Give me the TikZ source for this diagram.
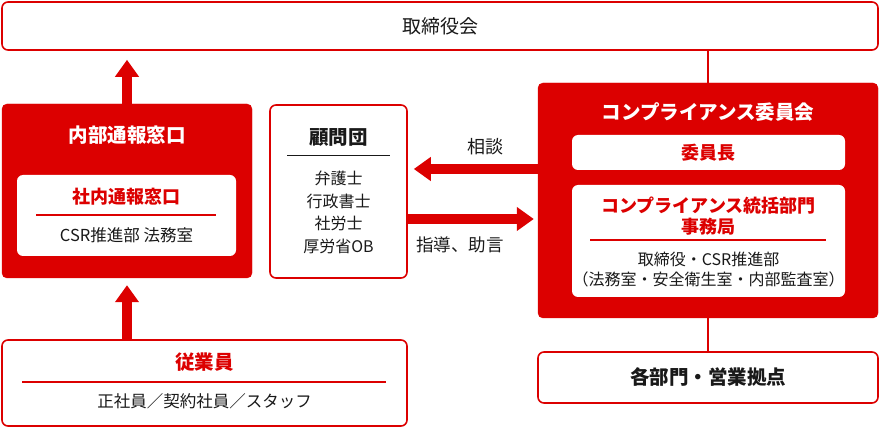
\documentclass[tikz,border=0pt]{standalone}
\usepackage{fontspec}
\setmainfont{Noto Sans CJK JP}
\usetikzlibrary{arrows.meta}
\definecolor{orgred}{RGB}{220,0,0}
\definecolor{orgink}{RGB}{25,25,25}
\tikzset{
  orgbox/.style={draw=orgred, line width=1.6pt, fill=white,
                 rounded corners=6pt, inner sep=0pt},
  orgpanel/.style={draw=orgred, fill=orgred, rounded corners=5pt,
                   inner sep=0pt},
  orginner/.style={fill=white, rounded corners=6pt, inner sep=0pt},
  orgtitle/.style={font=\fontsize{19.5}{22}\selectfont\bfseries, inner sep=0pt},
  orgsub/.style={font=\fontsize{18}{21}\selectfont\bfseries, text=orgred,
                 align=center, inner sep=0pt},
  orgtext/.style={font=\fontsize{16.5}{21}\selectfont, text=orgink,
                  align=center, inner sep=0pt},
  orgrule/.style={draw=orgred, line width=1.2pt},
  orglink/.style={draw=orgred, line width=1.8pt},
  bigarrow/.style={draw=orgred, line width=9.5pt,
                   -{Triangle[width=23pt,length=17pt]}}
}
\begin{document}
\begin{tikzpicture}[x=1pt, y=-1pt]
  \useasboundingbox (0,0) rectangle (880,427);

  % board
  \node[orgbox, minimum width=876pt, minimum height=48pt] (board) at (440,26) {};
  \node[orgtext, font=\fontsize{19}{22}\selectfont] (boardtxt) at (440,26) {取締役会};

  % internal reporting desk
  \node[orgpanel, minimum width=250pt, minimum height=174pt] (desk) at (127,191) {};
  \node[orgtitle, text=white] (desktxt) at (127,135) {内部通報窓口};
  \node[orginner, minimum width=219pt, minimum height=81pt] (deskin) at (126.5,215.5) {};
  \node[orgsub] (deskintxt) at (126.5,197) {社内通報窓口};
  \draw[orgrule] (36,215) -- (216,215);
  \node[orgtext] (deskinsub) at (126.5,235) {CSR推進部 法務室};

  % advisors
  \node[orgbox, minimum width=137pt, minimum height=173pt] (advisors) at (338.5,191.5) {};
  \node[orgtitle, text=orgink] (advtxt) at (338.5,137) {顧問団};
  \draw[orgink, line width=1pt] (287,156) -- (390,156);
  \node[orgtext, font=\fontsize{16}{22.5}\selectfont] (advlist) at (338.5,212.5)
    {弁護士\\行政書士\\社労士\\厚労省OB};

  % compliance committee
  \node[orgpanel, minimum width=340pt, minimum height=235pt] (committee) at (708,200.5) {};
  \node[orgtitle, text=white] (comtxt) at (708,112) {コンプライアンス委員会};
  \node[orginner, minimum width=273pt, minimum height=35pt] (chair) at (708.5,152.5) {};
  \node[orgsub] (chairtxt) at (708.5,153) {委員長};
  \node[orginner, minimum width=273pt, minimum height=112pt] (office) at (708.5,241) {};
  \node[orgsub] (officetxt) at (708.5,216.5) {コンプライアンス統括部門\\事務局};
  \draw[orgrule] (590,240) -- (826,240);
  \node[orgtext, font=\fontsize{16}{20}\selectfont] (officesub) at (708.5,270)
    {取締役・CSR推進部\\（法務室・安全衛生室・内部監査室）};

  % departments
  \node[orgbox, minimum width=340pt, minimum height=51pt] (depts) at (708,377.5) {};
  \node[orgtitle, text=orgink] (deptstxt) at (708,377.5) {各部門・営業拠点};

  % employees
  \node[orgbox, minimum width=405pt, minimum height=86pt] (staff) at (204.5,383) {};
  \node[orgtitle, text=orgred] (stafftxt) at (204.5,362) {従業員};
  \draw[orgrule] (22,382) -- (386,382);
  \node[orgtext] (staffsub) at (204.5,401) {正社員／契約社員／スタッフ};

  % links
  \draw[orglink] (committee.north) -- (committee.north |- board.south);
  \draw[orglink] (committee.south) -- (depts.north);
  \draw[bigarrow, shorten >=9pt] (desk.north) -- (desk.north |- board.south);
  \draw[bigarrow, shorten >=7pt] (staff.north -| desk.south) -- (desk.south);
  \draw[bigarrow, shorten >=6pt] ([yshift=31.5pt]committee.west)
    -- ([yshift=31.5pt]committee.west -| advisors.east);
  \draw[bigarrow, shorten >=4pt] ([yshift=-27.5pt]advisors.east)
    -- ([yshift=-27.5pt]advisors.east -| committee.west);
  \node[orgtext, font=\fontsize{18}{20}\selectfont] (consult) at (485,147) {相談};
  \node[orgtext, font=\fontsize{17.5}{20}\selectfont] (guide) at (460,245) {指導、助言};
\end{tikzpicture}
\end{document}
